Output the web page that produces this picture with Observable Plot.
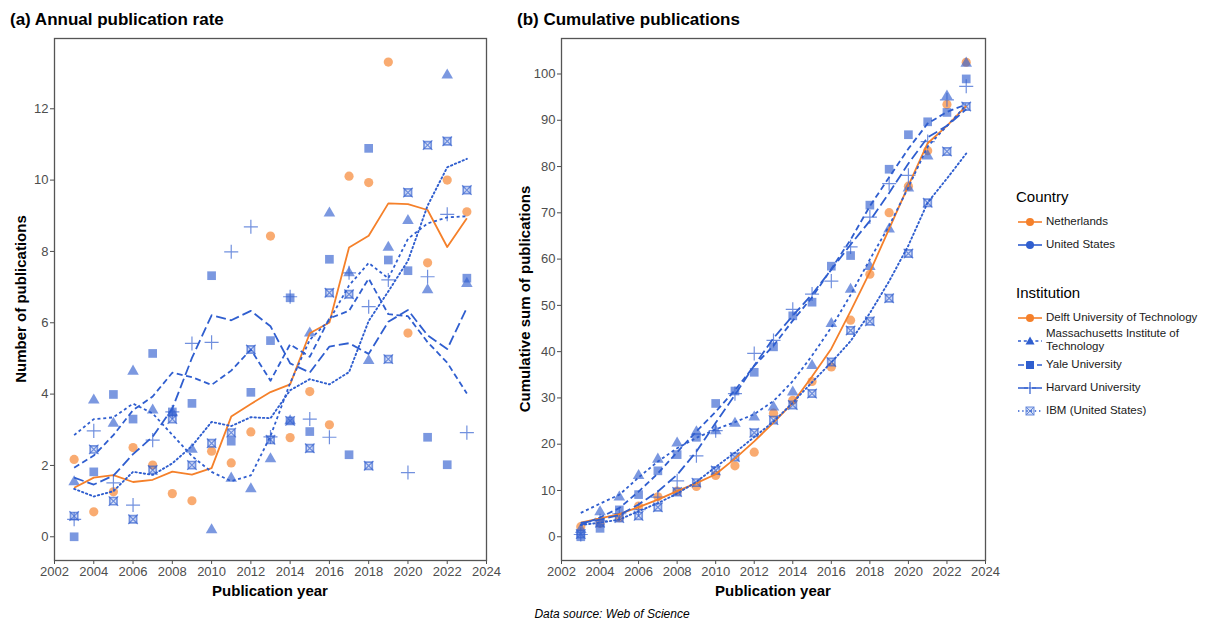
<!DOCTYPE html>
<html><head><meta charset="utf-8">
<script src="https://cdn.jsdelivr.net/npm/d3@7"></script>
<script src="https://cdn.jsdelivr.net/npm/@observablehq/plot@0.6"></script>
<style>
body{margin:0;background:#fff;font-family:"Liberation Sans",Arial,sans-serif;}
#wrap{position:relative;width:1208px;height:621px;overflow:hidden;background:#fff;}
.abs{position:absolute;}
.title{font-weight:bold;font-size:17px;color:#000;white-space:nowrap;}
.axt{font-weight:bold;font-size:15px;color:#000;white-space:nowrap;}
.rot{transform:translate(-50%,-50%) rotate(-90deg);}
.hc{transform:translate(-50%,-50%);}
.cap{font-style:italic;font-size:12px;color:#000;white-space:nowrap;}
.lgt{font-size:15px;color:#000;white-space:nowrap;}
.lgi{font-size:11.5px;color:#1a1a1a;line-height:13px;}
.sw{position:absolute;left:0;}
</style></head>
<body><div id="wrap">
<div class="abs title" style="left:10px;top:10px">(a) Annual publication rate</div>
<div class="abs title" style="left:517px;top:10px">(b) Cumulative publications</div>
<div class="abs axt rot" style="left:20px;top:299px">Number of publications</div>
<div class="abs axt rot" style="left:524px;top:299px">Cumulative sum of publications</div>
<div class="abs axt hc" style="left:270px;top:590px">Publication year</div>
<div class="abs axt hc" style="left:773px;top:590px">Publication year</div>
<div class="abs cap hc" style="left:612px;top:614px">Data source: Web of Science</div>
<div id="pa" class="abs" style="left:0;top:0"></div>
<div id="pb" class="abs" style="left:500px;top:0"></div>
<div id="legend" class="abs" style="left:1016px;top:186px;width:190px;height:240px"></div>
</div>
<script>
// ---- data (annual publication rate) ----
const years = [2003,2004,2005,2006,2007,2008,2009,2010,2011,2012,2013,2014,2015,2016,2017,2018,2019,2020,2021,2022,2023];
const delft   = [2.17,0.70,1.26,2.50,2.01,1.21,1.01,2.40,2.07,2.94,8.43,2.78,4.07,3.14,10.11,9.93,13.31,5.71,7.68,10.00,9.11];
const mit     = [1.54,3.83,3.18,4.64,3.55,3.47,2.45,0.19,1.64,1.34,2.18,3.25,5.71,9.07,7.40,4.94,8.11,8.86,6.92,12.94,7.10];
const yale    = [0.00,1.82,3.99,3.30,5.14,3.50,3.74,7.32,2.68,4.05,5.50,6.70,2.95,7.78,2.30,10.89,7.76,7.46,2.79,2.02,7.25];
const harvard = [0.49,2.97,1.51,0.89,2.71,3.50,5.42,5.45,7.99,8.69,2.80,6.73,3.30,2.79,7.40,6.45,7.20,1.80,7.29,9.04,2.92];
const ibm     = [0.58,2.45,1.00,0.49,1.87,3.30,2.01,2.62,2.92,5.25,2.72,3.25,2.48,6.84,6.80,1.99,4.98,9.65,10.98,11.09,9.72];

const institutions = ["Delft University of Technology","Massachusetts Institute of Technology","Yale University","Harvard University","IBM (United States)"];
const countries = ["Netherlands","United States","United States","United States","United States"];
const seriesValues = [delft, mit, yale, harvard, ibm];
const xTicks = [2002,2004,2006,2008,2010,2012,2014,2016,2018,2020,2022,2024];
const yTicksA = [0,2,4,6,8,10,12];
const yTicksB = [0,10,20,30,40,50,60,70,80,90,100];

// ---- styles ----
const countryColor = {"Netherlands":"#F5802A","United States":"#2F5ECF"};
const pointColor = {"Netherlands":"#F68A3A","United States":"#3461D0"};
const dash = ["none","3,2.8","6,3.5","10,4","1.4,2.8"];

const rows = [];
institutions.forEach((inst,i)=>{
  const cum = d3.cumsum(seriesValues[i]);
  years.forEach((yr,j)=>rows.push({year:yr, inst, country:countries[i], value:seriesValues[i][j], cum:cum[j], idx:i}));
});
const byInst = i => rows.filter(d=>d.idx===i);

function pointMarks(ykey){
  const m = [];
  const d0 = byInst(0), d1 = byInst(1), d2 = byInst(2), d3r = byInst(3), d4 = byInst(4);
  m.push(Plot.dot(d0,{x:"year",y:ykey,symbol:"circle",r:4.6,fill:pointColor["Netherlands"],fillOpacity:0.72,stroke:"none"}));
  m.push(Plot.dot(d4,{x:"year",y:ykey,symbol:"square2",r:4.6,stroke:pointColor["United States"],strokeOpacity:0.65,strokeWidth:1.7,fill:pointColor["United States"],fillOpacity:0.18}));
  m.push(Plot.dot(d4,{x:"year",y:ykey,symbol:"times",r:4.4,stroke:pointColor["United States"],strokeOpacity:0.65,strokeWidth:1.3}));
  m.push(Plot.dot(d3r,{x:"year",y:ykey,symbol:"plus",r:4.6,stroke:pointColor["United States"],strokeOpacity:0.7,strokeWidth:1.2}));
  m.push(Plot.dot(d2,{x:"year",y:ykey,symbol:"square",r:4.9,fill:pointColor["United States"],fillOpacity:0.65,stroke:"none"}));
  m.push(Plot.dot(d1,{x:"year",y:ykey,symbol:"triangle",r:4.3,fill:pointColor["United States"],fillOpacity:0.65,stroke:"none"}));
  return m;
}
function lineMarks(ykey){
  return institutions.map((inst,i)=>Plot.lineY(byInst(i), Plot.windowY({k:5, anchor:"middle", reduce:"mean", strict:false},
    {x:"year", y:ykey, stroke:countryColor[countries[i]], strokeWidth:i===4?1.9:1.8, strokeDasharray:dash[i], strokeLinecap:i===4?"round":"butt"})));
}
function axes(yt){
  return [
    Plot.axisX({ticks:xTicks, tickFormat:d=>String(d), tickSize:4, tickPadding:2, fontSize:13, color:"#4d4d4d", label:null}),
    Plot.axisY({ticks:yt, tickFormat:d=>String(d), tickSize:4, tickPadding:2, fontSize:13, color:"#4d4d4d", label:null}),
    Plot.frame({stroke:"#555", strokeWidth:1.3})
  ];
}
const common = {height:600, marginTop:38, marginBottom:40, style:{fontFamily:"Liberation Sans, Arial, sans-serif", background:"transparent", overflow:"visible"}};

const pa = Plot.plot({...common, width:500, marginLeft:54, marginRight:14,
  x:{domain:[2002,2024]}, y:{domain:[-0.665,13.97]},
  marks:[...axes(yTicksA), ...pointMarks("value"), ...lineMarks("value")]});
document.getElementById("pa").append(pa);

const pb = Plot.plot({...common, width:500, marginLeft:61, marginRight:15,
  x:{domain:[2002,2024]}, y:{domain:[-5.13,107.67]},
  marks:[...axes(yTicksB), ...pointMarks("cum"), ...lineMarks("cum")]});
document.getElementById("pb").append(pb);

// ---- legend (key only) ----
const lg = d3.select("#legend");
function sw(top, color, dasharray, sym){
  const s = lg.append("svg").attr("class","sw").style("top",(top-8)+"px").attr("width",28).attr("height",16);
  s.append("line").attr("x1",2).attr("x2",26).attr("y1",8).attr("y2",8).attr("stroke",color).attr("stroke-width",1.6)
   .attr("stroke-dasharray",dasharray==="none"?null:dasharray);
  const c = color;
  if(sym==="circle") s.append("circle").attr("cx",14).attr("cy",8).attr("r",4).attr("fill",c);
  if(sym==="triangle") s.append("path").attr("d","M14,3.5L18.5,11.5L9.5,11.5Z").attr("fill",c);
  if(sym==="square") s.append("rect").attr("x",10).attr("y",4).attr("width",8).attr("height",8).attr("fill",c);
  if(sym==="plus") s.append("path").attr("d","M14,2V14M8,8H20").attr("stroke",c).attr("stroke-width",1.2);
  if(sym==="ibm"){ s.append("rect").attr("x",10).attr("y",4).attr("width",8).attr("height",8).attr("fill",c).attr("fill-opacity",0.2).attr("stroke",c).attr("stroke-opacity",0.7);
    s.append("path").attr("d","M10.5,4.5L17.5,11.5M17.5,4.5L10.5,11.5").attr("stroke",c).attr("stroke-opacity",0.7); }
}
function txt(top, t, cls){ lg.append("div").attr("class","abs "+cls).style("left",cls==="lgt"?"0px":"30px").style("top",top+"px").style("width","170px").html(t); }
txt(2,"Country","lgt");
sw(36,countryColor["Netherlands"],"none","circle"); txt(29,"Netherlands","lgi");
sw(59,countryColor["United States"],"none","circle"); txt(52,"United States","lgi");
txt(98,"Institution","lgt");
const syms = ["circle","triangle","square","plus","ibm"];
const tops = [132,155,179,202,225];
institutions.forEach((inst,i)=>{
  sw(tops[i], countryColor[countries[i]], dash[i], syms[i]);
  if(i===1){ txt(tops[i]-14, "Massachusetts Institute of<br>Technology","lgi"); }
  else txt(tops[i]-7, inst, "lgi");
});
</script>
</body></html>
